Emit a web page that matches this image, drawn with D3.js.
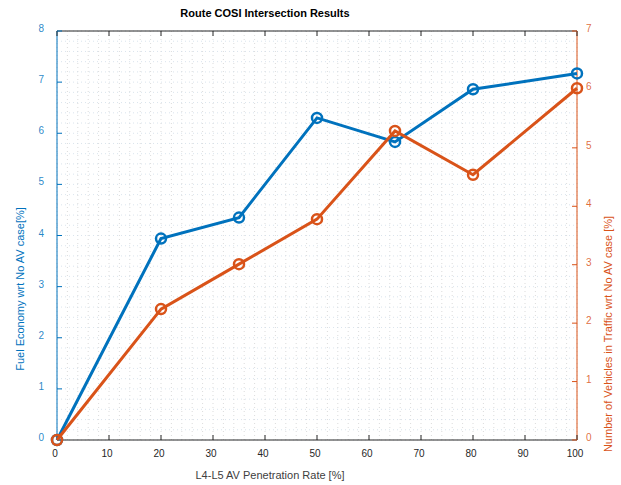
<!DOCTYPE html>
<html><head><meta charset="utf-8">
<script src="https://cdn.jsdelivr.net/npm/d3@7"></script>
<style>body{margin:0;background:#fff;}svg{display:block;font-family:"Liberation Sans",Arial,sans-serif;}</style>
</head><body>
<script>
const penetration = [0, 20, 35, 50, 65, 80, 100];
const fuelEconomy = [0, 3.94, 4.35, 6.30, 5.83, 6.86, 7.17];
const vehicles = [0, 2.24, 3.01, 3.78, 5.29, 4.54, 6.02];
const xTicks = [0,10,20,30,40,50,60,70,80,90,100];
const yLeftTicks = [0,1,2,3,4,5,6,7,8];
const yRightTicks = [0,1,2,3,4,5,6,7];
const title = "Route COSI Intersection Results";
const xLabel = "L4-L5 AV Penetration Rate [%]";
const yLeftLabel = "Fuel Economy wrt No AV case[%]";
const yRightLabel = "Number of Vehicles in Traffic wrt No AV case [%]";

const W = 621, H = 485;
const L = 57, R = 577, T = 31, B = 440;
const blue = "#0072BD", orange = "#D95319";

const svg = d3.select("body").append("svg").attr("width", W).attr("height", H);
const x = d3.scaleLinear().domain([0,100]).range([L,R]);
const yL = d3.scaleLinear().domain([0,8]).range([B,T]);
const yR = d3.scaleLinear().domain([0,7]).range([B,T]);

// grid (minor dotted)
const g = svg.append("g");
d3.range(0,101,2).forEach(v=>{
  g.append("line").attr("x1",x(v)).attr("x2",x(v)).attr("y1",T).attr("y2",B)
   .attr("stroke","#d2d2d2").attr("stroke-width",0.8).attr("stroke-dasharray","1,3");
});
d3.range(0,8.01,0.2).forEach(v=>{
  g.append("line").attr("x1",L).attr("x2",R).attr("y1",yL(v)).attr("y2",yL(v))
   .attr("stroke","#d0dde9").attr("stroke-width",0.8).attr("stroke-dasharray","1,3");
});

// box
svg.append("line").attr("x1",L).attr("x2",R).attr("y1",T).attr("y2",T).attr("stroke","#262626").attr("stroke-width",1);
svg.append("line").attr("x1",L).attr("x2",R).attr("y1",B).attr("y2",B).attr("stroke","#262626").attr("stroke-width",1);
svg.append("line").attr("x1",L).attr("x2",L).attr("y1",T).attr("y2",B).attr("stroke",blue).attr("stroke-width",1);
svg.append("line").attr("x1",R).attr("x2",R).attr("y1",T).attr("y2",B).attr("stroke",orange).attr("stroke-width",1);

xTicks.forEach(v=>{
  svg.append("line").attr("x1",x(v)).attr("x2",x(v)).attr("y1",B).attr("y2",B-5).attr("stroke","#262626");
  svg.append("line").attr("x1",x(v)).attr("x2",x(v)).attr("y1",T).attr("y2",T+5).attr("stroke","#262626");
  svg.append("text").attr("x",x(v)-2).attr("y",B+17).attr("text-anchor","middle")
    .attr("font-size",10).attr("fill","#262626").text(v);
});
yLeftTicks.forEach(v=>{
  svg.append("line").attr("x1",L).attr("x2",L+5).attr("y1",yL(v)).attr("y2",yL(v)).attr("stroke",blue);
  svg.append("text").attr("x",L-13).attr("y",yL(v)+1).attr("text-anchor","end")
    .attr("font-size",10).attr("fill",blue).attr("fill-opacity",0.85).text(v);
});
yRightTicks.forEach(v=>{
  svg.append("line").attr("x1",R).attr("x2",R-5).attr("y1",yR(v)).attr("y2",yR(v)).attr("stroke",orange);
  svg.append("text").attr("x",R+9).attr("y",yR(v)+1).attr("text-anchor","start")
    .attr("font-size",10).attr("fill",orange).attr("fill-opacity",0.85).text(v);
});

svg.append("text").attr("x",265).attr("y",17).attr("text-anchor","middle")
  .attr("font-size",11).attr("font-weight","bold").attr("fill","#000").text(title);
svg.append("text").attr("x",270).attr("y",479).attr("text-anchor","middle")
  .attr("font-size",11).attr("fill","#404040").text(xLabel);
svg.append("text").attr("transform","translate(24,289) rotate(-90)").attr("text-anchor","middle")
  .attr("font-size",11).attr("fill",blue).text(yLeftLabel);
svg.append("text").attr("transform","translate(612,334) rotate(-90)").attr("text-anchor","middle")
  .attr("font-size",11).attr("fill",orange).text(yRightLabel);

const lineL = d3.line().x((d,i)=>x(penetration[i])).y(d=>yL(d));
const lineR = d3.line().x((d,i)=>x(penetration[i])).y(d=>yR(d));
svg.append("path").attr("d",lineL(fuelEconomy)).attr("fill","none").attr("stroke",blue).attr("stroke-width",3);
svg.selectAll(".mb").data(fuelEconomy).enter().append("circle")
  .attr("cx",(d,i)=>x(penetration[i])).attr("cy",d=>yL(d)).attr("r",5)
  .attr("fill","none").attr("stroke",blue).attr("stroke-width",2.5);
svg.append("path").attr("d",lineR(vehicles)).attr("fill","none").attr("stroke",orange).attr("stroke-width",3);
svg.selectAll(".mo").data(vehicles).enter().append("circle")
  .attr("cx",(d,i)=>x(penetration[i])).attr("cy",d=>yR(d)).attr("r",5)
  .attr("fill","none").attr("stroke",orange).attr("stroke-width",2.5);
</script>
</body></html>
